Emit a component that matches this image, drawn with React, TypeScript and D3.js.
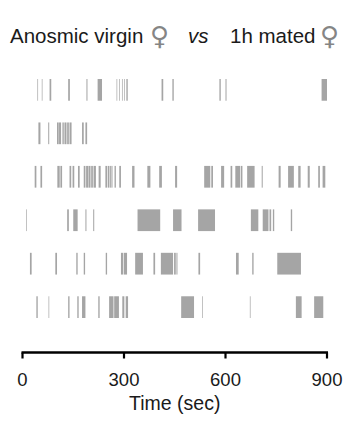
import React from 'react';
import * as d3 from 'd3';

// event bouts per fly, [start, end] in seconds
const fly1: [number, number][] = [
  [44, 46], [57, 59], [80, 85], [135, 140], [189, 192], [222, 235], [278, 280],
  [286, 288], [294, 296], [300, 302], [307, 311], [411, 416], [443, 447],
  [582, 586], [600, 603], [884, 900]
];
const fly2: [number, number][] = [
  [47, 53], [76, 79], [102, 107], [108, 114], [118, 122], [124, 130], [132, 137],
  [139, 145], [176, 181], [186, 191]
];
const fly3: [number, number][] = [
  [36, 41], [53, 58], [103, 110], [112, 117], [139, 144], [148, 153], [164, 169],
  [181, 186], [188, 194], [195, 201], [203, 208], [210, 217], [225, 231],
  [245, 250], [252, 257], [259, 263], [264, 266], [272, 276], [286, 291],
  [324, 331], [369, 378], [404, 412], [451, 457], [537, 555], [558, 563],
  [587, 596], [615, 620], [629, 643], [645, 650], [664, 686], [707, 710],
  [757, 763], [785, 802], [815, 822], [843, 849], [874, 879], [887, 895]
];
const fly4: [number, number][] = [
  [11, 13], [132, 137], [150, 163], [186, 189], [209, 212], [340, 407],
  [445, 470], [519, 569], [675, 697], [710, 727], [730, 735], [740, 744],
  [793, 797]
];
const fly5: [number, number][] = [
  [22, 27], [97, 102], [159, 163], [181, 185], [246, 250], [291, 297],
  [299, 309], [333, 356], [387, 392], [409, 445], [448, 453], [455, 458],
  [520, 525], [631, 639], [679, 683], [753, 823]
];
const fly6: [number, number][] = [
  [41, 45], [77, 79], [135, 139], [162, 166], [176, 186], [224, 228],
  [256, 269], [271, 285], [295, 301], [305, 312], [469, 507], [531, 533],
  [672, 674], [808, 825], [862, 889]
];

const flies = [fly1, fly2, fly3, fly4, fly5, fly6];
const timeTicks = [0, 300, 600, 900];

const W = 350;
const H = 423;

export default function App() {
  const x = d3.scaleLinear().domain([0, 900]).range([22.5, 327]);
  const y = d3
    .scaleBand<number>()
    .domain(d3.range(flies.length))
    .range([79, 318])
    .paddingInner(0.5)
    .paddingOuter(0);

  const axisY = 352.5;
  const font = 'Liberation Sans, Arial, sans-serif';
  const symFont = 'DejaVu Sans, sans-serif';

  return (
    <svg
      width={W}
      height={H}
      style={{ position: 'absolute', left: 0, top: 0, background: '#fff' }}
    >
      {/* title */}
      <text y={43} fontFamily={font} fontSize={20.5} fill="#1a1a1a">
        <tspan x={10}>Anosmic virgin</tspan>
        <tspan x={150} y={45} fill="#858585" fontFamily={symFont} fontSize={26}>♀</tspan>
        <tspan x={188} y={43} fontStyle="italic">vs</tspan>
        <tspan x={230}>1h mated</tspan>
        <tspan x={320} y={45} fill="#858585" fontFamily={symFont} fontSize={26}>♀</tspan>
      </text>

      {/* raster rows */}
      {flies.map((bouts, i) => (
        <g key={i}>
          {bouts.map(([s, e], j) => (
            <rect
              key={j}
              x={x(s)}
              y={y(i)}
              width={Math.max(x(e) - x(s), 0.6)}
              height={y.bandwidth()}
              fill="#a5a5a5"
            />
          ))}
        </g>
      ))}

      {/* time axis */}
      <line
        x1={x(0) - 1}
        x2={x(900) + 1}
        y1={axisY}
        y2={axisY}
        stroke="#000"
        strokeWidth={2.5}
      />
      {timeTicks.map((t) => (
        <g key={t} transform={`translate(${x(t)},0)`}>
          <line y1={axisY} y2={axisY + 6} stroke="#000" strokeWidth={2.2} />
          <text
            y={386}
            textAnchor="middle"
            fontFamily={font}
            fontSize={18.5}
            fill="#1a1a1a"
          >
            {t}
          </text>
        </g>
      ))}
      <text
        x={(x(0) + x(900)) / 2}
        y={410}
        textAnchor="middle"
        fontFamily={font}
        fontSize={19.5}
        fill="#1a1a1a"
      >
        Time (sec)
      </text>
    </svg>
  );
}
